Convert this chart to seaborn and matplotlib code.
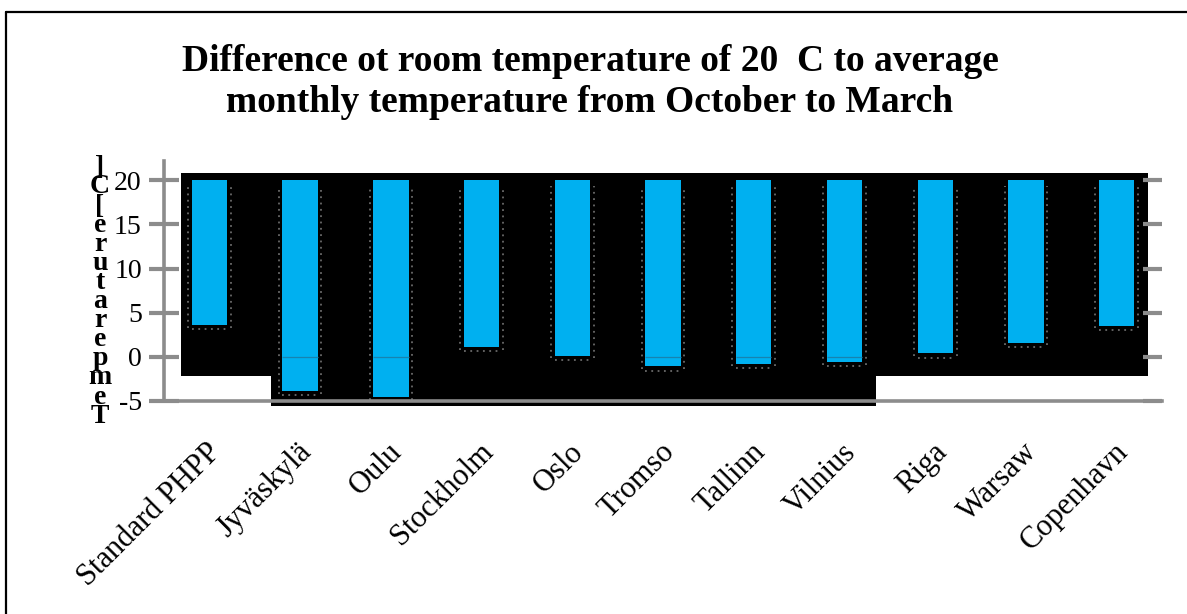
import numpy as np
import pandas as pd
import matplotlib
matplotlib.use('Agg')
import matplotlib.pyplot as plt
import seaborn as sns
from matplotlib.patches import Rectangle
from matplotlib.lines import Line2D
from matplotlib.transforms import ScaledTranslation

cities = ['Standard PHPP', 'Jyväskylä', 'Oulu', 'Stockholm', 'Oslo', 'Tromso',
          'Tallinn', 'Vilnius', 'Riga', 'Warsaw', 'Copenhavn']
avg_temp = [3.6, -3.9, -4.6, 1.1, 0.1, -1.1, -0.8, -0.6, 0.4, 1.6, 3.5]
room_temp = 20
y_ticks = [-5, 0, 5, 10, 15, 20]

df = pd.DataFrame({'City': cities, 'AvgTemp': avg_temp})
df['Diff'] = room_temp - df['AvgTemp']

sns.set_style('white')
plt.rcParams['font.family'] = ['Liberation Serif', 'DejaVu Serif']
plt.rcParams['text.color'] = 'black'
plt.rcParams['xtick.labelcolor'] = 'black'
plt.rcParams['ytick.labelcolor'] = 'black'
plt.rcParams['axes.unicode_minus'] = False

grey = '#8c8c8c'
blue = '#00B0F0'
bar_w = 0.39

fig = plt.figure(figsize=(11.87, 6.14), dpi=100)
ax = fig.add_axes([0.1382, 0.3474, 0.8408, 0.3904])

# black plot-area blocks behind the bars
ax.add_patch(Rectangle((0.017, 0.103), 0.969, 0.847, transform=ax.transAxes,
                       facecolor='black', edgecolor='none', zorder=0, clip_on=False))
ax.add_patch(Rectangle((0.107, -0.021), 0.606, 0.97, transform=ax.transAxes,
                       facecolor='black', edgecolor='none', zorder=0, clip_on=False))

# floating bars from monthly average up to room temperature
sns.barplot(data=df, x='City', y='Diff', bottom=df['AvgTemp'].values, color=blue,
            saturation=1, width=bar_w, errorbar=None, linewidth=0, zorder=3, ax=ax)

for i, t in enumerate(avg_temp):
    # dotted grey outline artefacts around the bars
    ax.vlines([i - bar_w / 2 - 0.04, i + bar_w / 2 + 0.04], t - 0.3, room_temp - 0.6,
              colors='#6a6a6a', linestyles=(0, (1, 2.5)), lw=1.3, zorder=2)
    ax.hlines(t - 0.5, i - bar_w / 2, i + bar_w / 2, colors='#6a6a6a',
              linestyles=(0, (1, 2.5)), lw=1.3, zorder=2)
    if t < 0:
        ax.hlines(0, i - bar_w / 2, i + bar_w / 2, colors='#1783b0', lw=0.9, zorder=4)

ax.set_xlim(-0.5, len(cities) - 0.5)
ax.set_ylim(-5, 22.2)
ax.set_yticks(y_ticks)
ax.set_xticks(np.arange(len(cities)))
ax.set_xticks(np.arange(len(cities) + 1) - 0.5, minor=True)
ax.set_xlabel('')
ax.set_ylabel('')

ax.tick_params(axis='x', which='major', length=0, pad=34)
ax.tick_params(axis='x', which='minor', length=8, width=3, color=grey, direction='out')
ax.tick_params(axis='y', length=22, width=3, color=grey, direction='inout',
               labelsize=20, pad=5)
ax.set_xticklabels(cities, rotation=45, ha='right', va='center',
                   rotation_mode='anchor', fontsize=22)
for lab in ax.get_xticklabels():
    lab.set_transform(lab.get_transform() + ScaledTranslation(0.07, 0, fig.dpi_scale_trans))

for side in ['top', 'right']:
    ax.spines[side].set_visible(False)
for side in ['left', 'bottom']:
    ax.spines[side].set_color(grey)
    ax.spines[side].set_linewidth(2.6)
    ax.spines[side].set_zorder(5)

# right-hand inner tick marks
ax2 = ax.twinx()
ax2.set_ylim(ax.get_ylim())
ax2.set_yticks(y_ticks)
ax2.tick_params(axis='y', direction='in', length=14, width=3, color=grey, labelright=False)
for s in ax2.spines.values():
    s.set_visible(False)

fig.text(100 / 1187, 1 - 292 / 614, '\n'.join(reversed('Temperature[C]')),
         ha='center', va='center', fontsize=20, fontweight='bold', linespacing=0.69)

fig.text(0.497, 1 - 82 / 614,
         'Difference ot room temperature of 20  C to average\n'
         'monthly temperature from October to March',
         ha='center', va='center', fontsize=27, fontweight='bold', linespacing=1.25)

# outer chart frame (top and left edges visible)
fig.add_artist(Line2D([6 / 1187, 6 / 1187], [0, 1 - 12 / 614], color='black', lw=1.6))
fig.add_artist(Line2D([6 / 1187, 1], [1 - 12 / 614, 1 - 12 / 614], color='black', lw=1.6))

fig.savefig('out.png', dpi=100)
